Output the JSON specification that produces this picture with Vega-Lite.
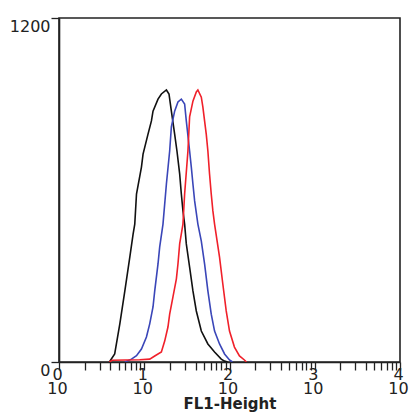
{
  "$schema": "https://vega.github.io/schema/vega-lite/v6.json",
  "width": 341,
  "height": 344,
  "autosize": {"type": "none"},
  "padding": {"left": 59, "top": 18, "right": 12, "bottom": 52},
  "background": "white",
  "config": {
    "view": {"stroke": "#222", "strokeWidth": 1.6},
    "font": "DejaVu Sans",
    "axis": {"grid": false, "domainColor": "#222", "domainWidth": 1.6, "tickColor": "#222", "tickWidth": 1.3, "labelColor": "#222", "labelFont": "DejaVu Sans", "labelFontSize": 16}
  },
  "data": {"values": [
    {"s":"a","x":3.9,"y":0},{"s":"a","x":4.5,"y":28},{"s":"a","x":5.17,"y":133},{"s":"a","x":5.92,"y":248},{"s":"a","x":6.77,"y":366},{"s":"a","x":7.4,"y":446},{"s":"a","x":7.74,"y":481},{"s":"a","x":8.11,"y":586},{"s":"a","x":9.27,"y":680},{"s":"a","x":9.68,"y":725},{"s":"a","x":11.07,"y":795},{"s":"a","x":12.14,"y":841},{"s":"a","x":12.67,"y":875},{"s":"a","x":14.5,"y":917},{"s":"a","x":15.88,"y":935},{"s":"a","x":18.19,"y":949},{"s":"a","x":19.51,"y":935},{"s":"a","x":20.8,"y":875},{"s":"a","x":22.73,"y":795},{"s":"a","x":24.19,"y":736},{"s":"a","x":26.03,"y":656},{"s":"a","x":27.23,"y":586},{"s":"a","x":28.44,"y":527},{"s":"a","x":29.76,"y":481},{"s":"a","x":31.14,"y":412},{"s":"a","x":34.05,"y":331},{"s":"a","x":37.24,"y":248},{"s":"a","x":40.8,"y":178},{"s":"a","x":46.7,"y":108},{"s":"a","x":55.77,"y":63},{"s":"a","x":66.8,"y":35},{"s":"a","x":80,"y":10},{"s":"a","x":87.5,"y":3},{"s":"a","x":95,"y":0},
    {"s":"b","x":5.92,"y":0},{"s":"b","x":7.08,"y":10},{"s":"b","x":8.11,"y":22},{"s":"b","x":9.27,"y":45},{"s":"b","x":10.61,"y":87},{"s":"b","x":11.59,"y":133},{"s":"b","x":12.67,"y":192},{"s":"b","x":13.27,"y":248},{"s":"b","x":14.5,"y":342},{"s":"b","x":15.17,"y":401},{"s":"b","x":16.59,"y":481},{"s":"b","x":18.19,"y":621},{"s":"b","x":19.87,"y":736},{"s":"b","x":20.8,"y":820},{"s":"b","x":22.73,"y":875},{"s":"b","x":24.85,"y":907},{"s":"b","x":27.23,"y":917},{"s":"b","x":29.76,"y":900},{"s":"b","x":31.14,"y":841},{"s":"b","x":34.05,"y":736},{"s":"b","x":35.65,"y":680},{"s":"b","x":37.24,"y":621},{"s":"b","x":38.99,"y":562},{"s":"b","x":42.58,"y":481},{"s":"b","x":46.7,"y":422},{"s":"b","x":51.02,"y":342},{"s":"b","x":55.77,"y":248},{"s":"b","x":61.08,"y":167},{"s":"b","x":66.8,"y":108},{"s":"b","x":76.4,"y":63},{"s":"b","x":87.5,"y":28},{"s":"b","x":100,"y":7},{"s":"b","x":108.4,"y":0},
    {"s":"c","x":3.9,"y":0},{"s":"c","x":4.2,"y":6},{"s":"c","x":8.85,"y":8},{"s":"c","x":11.59,"y":10},{"s":"c","x":13.27,"y":21},{"s":"c","x":15.88,"y":35},{"s":"c","x":17.37,"y":73},{"s":"c","x":18.97,"y":122},{"s":"c","x":19.87,"y":167},{"s":"c","x":21.72,"y":227},{"s":"c","x":23.82,"y":290},{"s":"c","x":24.85,"y":342},{"s":"c","x":26.03,"y":412},{"s":"c","x":28.44,"y":481},{"s":"c","x":29.76,"y":586},{"s":"c","x":32.54,"y":736},{"s":"c","x":34.05,"y":855},{"s":"c","x":37.24,"y":910},{"s":"c","x":40.8,"y":942},{"s":"c","x":42.58,"y":949},{"s":"c","x":46.7,"y":924},{"s":"c","x":48.73,"y":889},{"s":"c","x":51.02,"y":841},{"s":"c","x":53.37,"y":795},{"s":"c","x":55.77,"y":736},{"s":"c","x":58.34,"y":656},{"s":"c","x":61.08,"y":586},{"s":"c","x":63.83,"y":527},{"s":"c","x":66.8,"y":481},{"s":"c","x":76.4,"y":366},{"s":"c","x":83.5,"y":272},{"s":"c","x":91.5,"y":178},{"s":"c","x":100,"y":108},{"s":"c","x":114.3,"y":52},{"s":"c","x":130.9,"y":21},{"s":"c","x":149.7,"y":7},{"s":"c","x":158,"y":0}
  ]},
  "mark": {"type": "line", "strokeWidth": 1.6, "clip": true},
  "encoding": {
    "x": {
      "field": "x", "type": "quantitative",
      "scale": {"type": "log", "domain": [1, 10000], "nice": false},
      "axis": {
        "title": "FL1-Height",
        "titleFont": "DejaVu Sans", "titleFontSize": 15, "titleFontWeight": "bold", "titleColor": "#222", "titlePadding": 0,
        "values": [1,2,3,4,5,6,7,8,9,10,20,30,40,50,60,70,80,90,100,200,300,400,500,600,700,800,900,1000,2000,3000,4000,5000,6000,7000,8000,9000,10000],
        "labelExpr": "indexof([1,10,100,1000,10000], datum.value) >= 0 ? ['    ' + (length(toString(datum.value)) - 1), '10'] : ''",
        "labelLineHeight": 14,
        "labelOffset": -2,
        "labelOverlap": false, "labelFlush": false, "labelBound": false,
        "tickSize": 8, "labelPadding": -4
      }
    },
    "y": {
      "field": "y", "type": "quantitative",
      "scale": {"domain": [0, 1200], "nice": false},
      "axis": {"title": null, "values": [0, 1200], "format": "d", "tickSize": 8, "labelPadding": 1, "labelBaseline": "top", "labelOffset": 0}
    },
    "color": {"field": "s", "type": "nominal", "scale": {"domain": ["a", "b", "c"], "range": ["#111111", "#3a46b8", "#f0202a"]}, "legend": null}
  }
}
